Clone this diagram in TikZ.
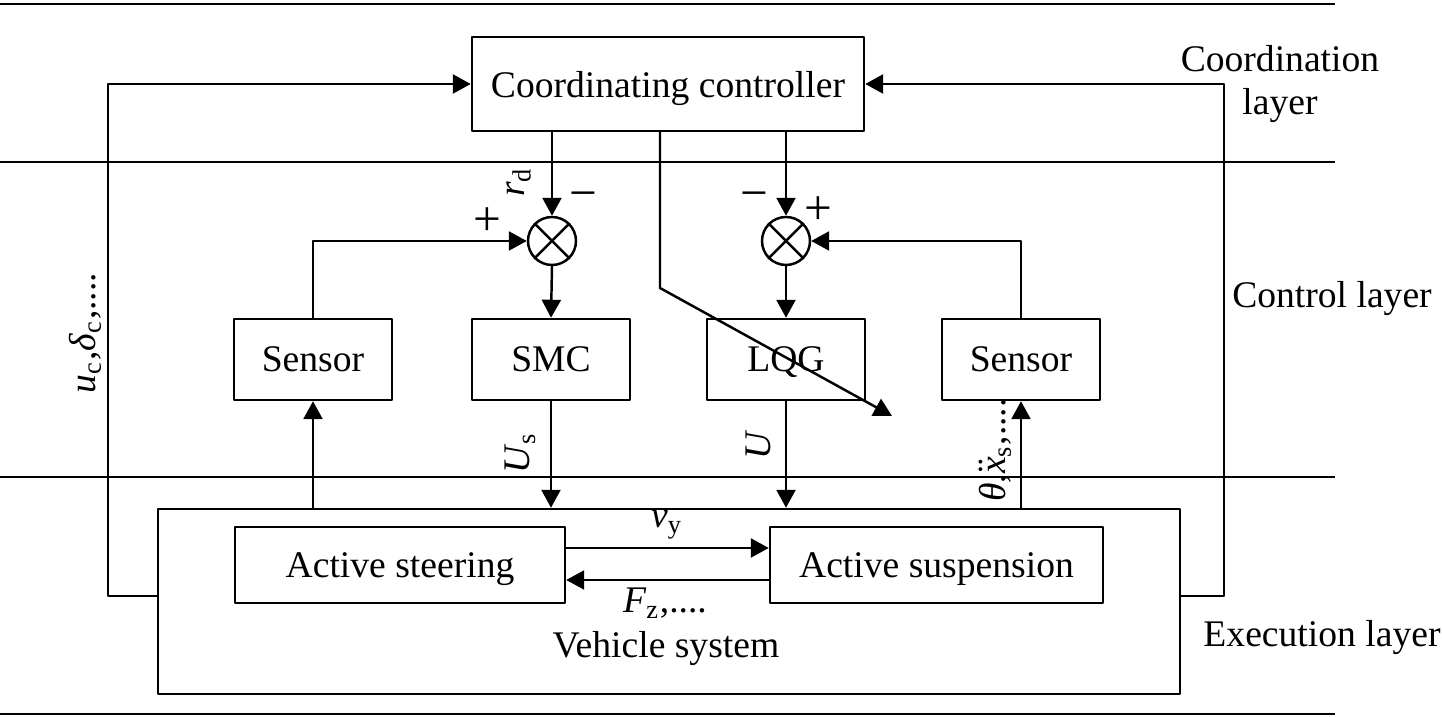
\documentclass[tikz,border=0pt]{standalone}
\usepackage{fontspec}
\setmainfont{Liberation Serif}
\usepackage{tikz}
\usetikzlibrary{arrows.meta,calc}

\begin{document}
\begin{tikzpicture}[>={Triangle[length=0.18cm,width=0.19cm]},line join=round,
  line width=0.7pt,font=\fontsize{10.7}{12.5}\selectfont,
  blk/.style={draw,line width=0.7pt,inner sep=0pt,text depth=0pt},
  sumnode/.style={draw,circle,minimum size=0.48cm,inner sep=0pt},
  lbl/.style={inner sep=0pt},
  sgn/.style={inner sep=0pt,font=\fontsize{14}{16}\selectfont}]
  \useasboundingbox (0,0) rectangle (14.42,-7.17);
  % layer separators
  \draw[line width=0.8pt] (0.000,-0.040) -- (13.350,-0.040);
  \draw[line width=0.8pt] (0.000,-1.620) -- (13.350,-1.620);
  \draw[line width=0.8pt] (0.000,-4.770) -- (13.350,-4.770);
  \draw[line width=0.8pt] (0.000,-7.140) -- (13.350,-7.140);
  \node[lbl,align=center] (layC) at (12.800,-0.840) {Coordination\\layer};
  \node[lbl] (layK) at (13.320,-2.990) {Control layer};
  \node[lbl] (layE) at (13.220,-6.380) {Execution layer};
  % blocks
  \node[blk,minimum width=3.92cm,minimum height=0.94cm] (coord) at (6.680,-0.840) {Coordinating controller};
  \node[blk,minimum width=1.58cm,minimum height=0.81cm] (senL) at (3.130,-3.595) {Sensor};
  \node[blk,minimum width=1.58cm,minimum height=0.81cm] (smc) at (5.510,-3.595) {SMC};
  \node[blk,minimum width=1.58cm,minimum height=0.81cm] (lqg) at (7.860,-3.595) {LQG};
  \node[blk,minimum width=1.58cm,minimum height=0.81cm] (senR) at (10.210,-3.595) {Sensor};
  \node[blk,minimum width=10.22cm,minimum height=1.85cm] (veh) at (6.690,-6.015) {};
  \node[blk,minimum width=3.30cm,minimum height=0.76cm] (ast) at (4.000,-5.650) {Active steering};
  \node[blk,minimum width=3.33cm,minimum height=0.76cm] (asp) at (9.365,-5.650) {Active suspension};
  \node[lbl] (vehT) at (6.660,-6.490) {Vehicle system};
  \node[sumnode] (sL) at (5.520,-2.410) {};
  \node[sumnode] (sR) at (7.860,-2.410) {};
  \draw (sL.north west) -- (sL.south east) (sL.north east) -- (sL.south west);
  \draw (sR.north west) -- (sR.south east) (sR.north east) -- (sR.south west);
  % signals
  \draw[->] (coord.south -| sL) -- (sL.north);
  \draw[->] (coord.south -| sR) -- (sR.north);
  \draw[->] (senL.north) |- (sL.west);
  \draw[->] (senR.north) |- (sR.east);
  \draw[->] (sL.south) -- (smc.north);
  \draw[->] (sR.south) -- (lqg.north);
  \draw[->] (smc.south) -- (veh.north -| smc);
  \draw[->] (lqg.south) -- (veh.north -| lqg);
  \draw[->] (veh.north -| senL) -- (senL.south);
  \draw[->] (veh.north -| senR) -- (senR.south);
  \coordinate (kink) at (6.600,-2.880);
  \coordinate (tip) at (8.920,-4.160);
  \draw[->] (coord.south -| kink) -- (kink) -- (tip);
  \coordinate (vyA) at (0,-5.480);
  \coordinate (fzA) at (0,-5.800);
  \draw[->] (ast.east |- vyA) -- (asp.west |- vyA);
  \draw[->] (asp.west |- fzA) -- (ast.east |- fzA);
  \coordinate (fbL) at (1.080,-5.960);
  \coordinate (fbR) at (12.240,-5.960);
  \draw[->] (veh.west |- fbL) -- (fbL) |- (coord.west);
  \draw[->] (veh.east |- fbR) -- (fbR) |- (coord.east);
  % labels
  \node[lbl,rotate=90] (rd) at (5.190,-1.820) {\textit{r}\textsubscript{d}};
  \node[sgn] (mL) at (5.830,-2.010) {−};
  \node[sgn] (pL) at (4.870,-2.220) {+};
  \node[sgn] (mR) at (7.540,-2.010) {−};
  \node[sgn] (pR) at (8.180,-2.110) {+};
  \node[lbl,rotate=90] (us) at (5.200,-4.530) {\textit{U}\textsubscript{s}};
  \node[lbl,rotate=90] (u) at (7.580,-4.450) {\textit{U}};
  \node[lbl,rotate=90] (th) at (9.950,-4.500) {\textit{θ},$\ddot{\mbox{\textit{x}}}$\textsubscript{s},....};
  \node[lbl,rotate=90] (uc) at (0.850,-3.330) {\textit{u}\textsubscript{c},\textit{δ}\textsubscript{c},....};
  \node[lbl] (vy) at (6.670,-5.250) {\textit{v}\textsubscript{y}};
  \node[lbl] (fz) at (6.650,-6.030) {\textit{F}\textsubscript{z},....};
\end{tikzpicture}
\end{document}
